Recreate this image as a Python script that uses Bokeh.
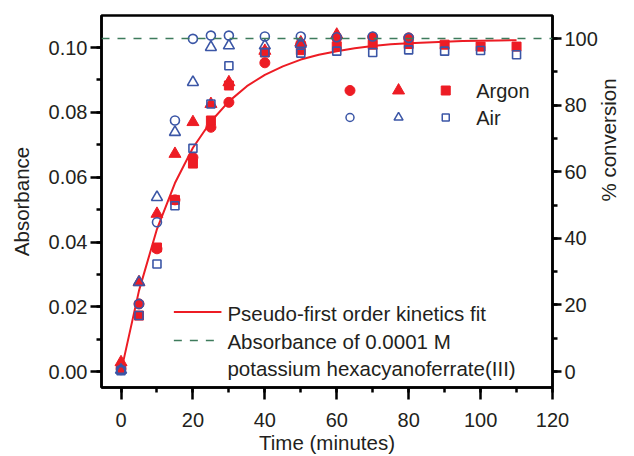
import math
from bokeh.plotting import figure
from bokeh.models import Range1d, LinearAxis, SingleIntervalTicker, Label, Span, NumeralTickFormatter
from bokeh.embed import file_html
from bokeh.resources import INLINE

# ---------------- data ----------------
t_argon_circle = [0, 5, 10, 15, 20, 25, 30, 40, 50, 60, 70, 80]
abs_argon_circle = [0.0010, 0.0209, 0.0379, 0.0530, 0.0661, 0.0754, 0.0831, 0.0953, 0.1012, 0.1030, 0.1032, 0.1030]

t_argon_triangle = [0, 5, 10, 15, 20, 25, 30, 40, 50, 60]
abs_argon_triangle = [0.0029, 0.0276, 0.0487, 0.0672, 0.0770, 0.0826, 0.0893, 0.0990, 0.1016, 0.1040]

t_argon_square = [0, 5, 10, 15, 20, 25, 30, 40, 50, 60, 70, 80, 90, 100, 110]
abs_argon_square = [0.0008, 0.0173, 0.0383, 0.0530, 0.0642, 0.0775, 0.0883, 0.0985, 0.0992, 0.1004, 0.1009, 0.1011, 0.1009, 0.1003, 0.1003]

t_air_circle = [0, 5, 10, 15, 20, 25, 30, 40, 50, 60, 70, 80]
abs_air_circle = [0.0005, 0.0209, 0.0461, 0.0775, 0.1027, 0.1037, 0.1037, 0.1034, 0.1034, 0.1032, 0.1034, 0.1030]

t_air_triangle = [0, 5, 10, 15, 20, 25, 30, 40, 50]
abs_air_triangle = [0.0005, 0.0276, 0.0538, 0.0739, 0.0893, 0.1001, 0.1006, 0.1006, 0.1011]

t_air_square = [0, 5, 10, 15, 20, 25, 30, 40, 50, 60, 70, 80, 90, 100, 110]
abs_air_square = [0.0003, 0.0173, 0.0332, 0.0512, 0.0689, 0.0826, 0.0944, 0.0985, 0.0983, 0.0989, 0.0985, 0.0993, 0.0989, 0.0991, 0.0978]

# pseudo-first order fit curve
t_fit = [0, 5, 10, 15, 20, 25, 30, 35, 40, 45, 50, 55, 60, 65, 70, 75, 80, 85, 90, 95, 100, 105, 110]
abs_fit = [0.0000, 0.0250, 0.0440, 0.0582, 0.0691, 0.0772, 0.0834, 0.0881, 0.0916, 0.0942, 0.0963,
           0.0978, 0.0989, 0.0998, 0.1005, 0.1010, 0.1013, 0.1016, 0.1018, 0.1020, 0.1021, 0.1022, 0.1023]

abs_reference = 0.1028   # absorbance of 0.0001 M K3[Fe(CN)6] = 100 % conversion

x_label = "Time (minutes)"
y_label = "Absorbance"
y2_label = "% conversion"
legend_fit = "Pseudo-first order kinetics fit"
legend_ref = ["Absorbance of 0.0001 M", "potassium hexacyanoferrate(III)"]
legend_groups = ["Argon", "Air"]

# ---------------- styling ----------------
RED = "#ED1C24"
BLUE = "#3B56A6"
GREEN = "#3E7B5C"
TXT = "#231F20"
FONT = "Liberation Sans"

Y_LO, Y_HI = -0.0049, 0.1099
FRAME_W, FRAME_H = 455, 372
p = figure(width=634, height=456, output_backend="svg", toolbar_location=None,
           x_range=Range1d(-5.43, 120), y_range=Range1d(Y_LO, Y_HI),
           min_border_left=101, min_border_right=78, min_border_top=15, min_border_bottom=69,
           background_fill_color="white", border_fill_color="white")
p.extra_y_ranges = {"pct": Range1d(Y_LO / abs_reference * 100, Y_HI / abs_reference * 100),
                    "fy": Range1d(FRAME_H, 0)}
p.extra_x_ranges = {"fx": Range1d(0, FRAME_W)}

p.xgrid.visible = False
p.ygrid.visible = False
p.outline_line_color = "black"
p.outline_line_width = 2.5
p.outline_line_alpha = 1


def style_axis(ax, label):
    ax.axis_label = label
    ax.axis_label_text_font = FONT
    ax.axis_label_text_font_style = "normal"
    ax.axis_label_text_font_size = "20.5px"
    ax.axis_label_text_color = TXT
    ax.major_label_text_font = FONT
    ax.major_label_text_font_size = "20px"
    ax.major_label_text_color = TXT
    ax.axis_line_color = "black"
    ax.axis_line_width = 2.5
    ax.major_tick_line_color = "black"
    ax.major_tick_line_width = 2.5
    ax.minor_tick_line_color = "black"
    ax.minor_tick_line_width = 2.5
    ax.major_tick_in = 0
    ax.major_tick_out = 11
    ax.minor_tick_in = 0
    ax.minor_tick_out = 5


xa = p.xaxis[0]
style_axis(xa, x_label)
xa.ticker = SingleIntervalTicker(interval=20, num_minor_ticks=2)
xa.major_tick_out = 12
xa.major_label_standoff = 13
xa.axis_label_standoff = 1

ya = p.yaxis[0]
style_axis(ya, y_label)
ya.ticker = SingleIntervalTicker(interval=0.02, num_minor_ticks=2)
ya.formatter = NumeralTickFormatter(format="0.00")
ya.major_label_standoff = 3
ya.axis_label_standoff = 13

ra = LinearAxis(y_range_name="pct")
style_axis(ra, y2_label)
ra.ticker = SingleIntervalTicker(interval=20, num_minor_ticks=2)
ra.major_tick_out = 9
ra.major_label_standoff = 3
ra.axis_label_standoff = 8
ra.axis_label_orientation = math.pi / 2
p.add_layout(ra, "right")

kw = dict(x_range_name="fx", y_range_name="fy")

# reference line (100 % conversion)
p.add_layout(Span(location=abs_reference, dimension="width", line_color=GREEN,
                  line_width=1.6, line_dash="8 8"))

# fit curve
p.line(t_fit, abs_fit, line_color=RED, line_width=2)

# Argon (filled red)
p.scatter(t_argon_circle, abs_argon_circle, marker="circle", size=10, fill_color=RED, line_color=RED)
p.scatter(t_argon_triangle, abs_argon_triangle, marker="triangle", size=12, fill_color=RED, line_color=RED)
p.scatter(t_argon_square, abs_argon_square, marker="square", size=9, fill_color=RED, line_color=RED)
# Air (open blue)
p.scatter(t_air_circle, abs_air_circle, marker="circle", size=9, fill_color=None, line_color=BLUE, line_width=1.6)
p.scatter(t_air_triangle, abs_air_triangle, marker="triangle", size=11, fill_color=None, line_color=BLUE, line_width=1.6)
p.scatter(t_air_square, abs_air_square, marker="square", size=8, fill_color=None, line_color=BLUE, line_width=1.6)

# ---------------- legends (positions in frame pixels) ----------------
lg_cols = [250.7, 299.7, 347.3]
lg_rows = [75, 102]
p.scatter([lg_cols[0]], [lg_rows[0]], marker="circle", size=10, fill_color=RED, line_color=RED, **kw)
p.scatter([lg_cols[1]], [lg_rows[0]], marker="triangle", size=12, fill_color=RED, line_color=RED, **kw)
p.scatter([lg_cols[2]], [lg_rows[0]], marker="square", size=9, fill_color=RED, line_color=RED, **kw)
p.scatter([lg_cols[0]], [lg_rows[1]], marker="circle", size=8, fill_color=None, line_color=BLUE, line_width=1.5, **kw)
p.scatter([lg_cols[1]], [lg_rows[1]], marker="triangle", size=9, fill_color=None, line_color=BLUE, line_width=1.5, **kw)
p.scatter([lg_cols[2]], [lg_rows[1]], marker="square", size=7, fill_color=None, line_color=BLUE, line_width=1.5, **kw)
for name, yy in zip(legend_groups, lg_rows):
    p.add_layout(Label(x=378, y=yy, text=name, text_font=FONT, text_font_size="20px",
                       text_color=TXT, text_baseline="middle", **kw))

p.line([73, 121], [296.5, 296.5], line_color=RED, line_width=2, **kw)
p.line([73, 121], [325, 325], line_color=GREEN, line_width=1.6, line_dash="8 8", **kw)
for txt, yy in zip([legend_fit] + legend_ref, [297.5, 325.5, 352.5]):
    p.add_layout(Label(x=127, y=yy, text=txt, text_font=FONT, text_font_size="20.5px",
                       text_color=TXT, text_baseline="middle", **kw))

open("out.html", "w").write(file_html(p, INLINE))
